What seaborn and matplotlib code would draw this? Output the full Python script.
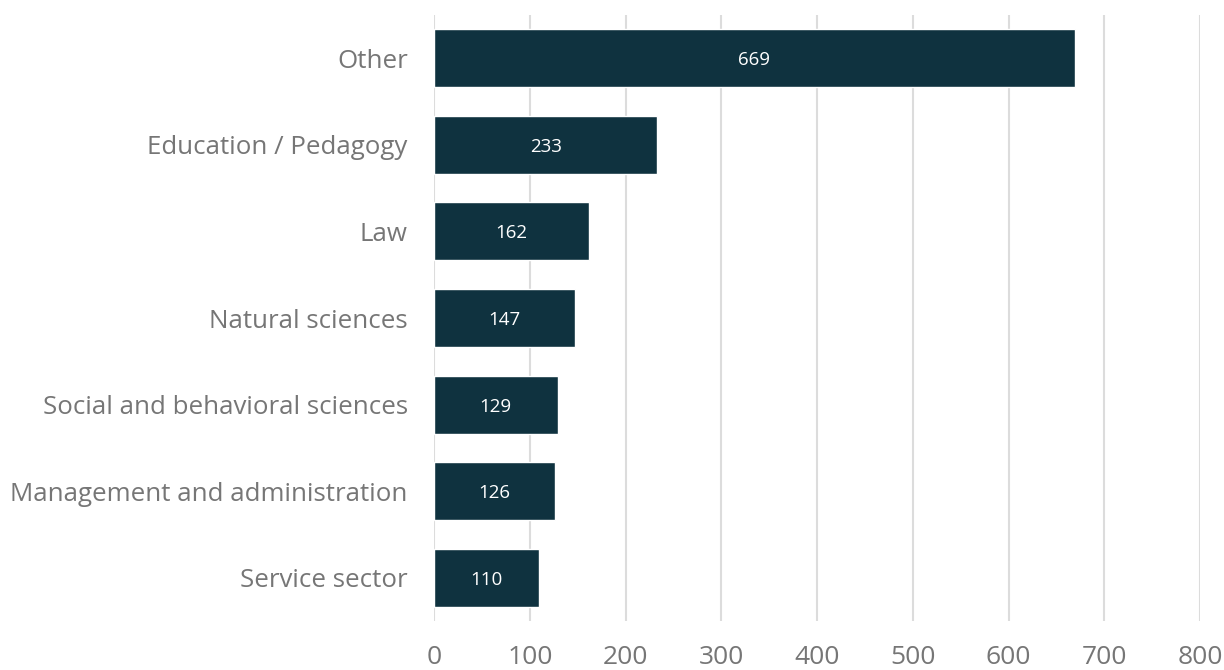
import matplotlib
matplotlib.use("Agg")
import matplotlib.pyplot as plt
import seaborn as sns
import pandas as pd

categories = [
    "Other",
    "Education / Pedagogy",
    "Law",
    "Natural sciences",
    "Social and behavioral sciences",
    "Management and administration",
    "Service sector",
]
counts = [669, 233, 162, 147, 129, 126, 110]
x_ticks = [0, 100, 200, 300, 400, 500, 600, 700, 800]

bar_color = "#0f323f"
label_color = "#767676"
grid_color = "#dcdcdc"

sns.set_theme(style="white")
plt.rcParams["font.family"] = ["Open Sans", "DejaVu Sans"]

df = pd.DataFrame({"field": categories, "count": counts})

fig = plt.figure(figsize=(12.24, 6.7), dpi=100)
ax = fig.add_axes([0.3546, 0.0731, 0.6258, 0.9045])

sns.barplot(data=df, y="field", x="count", orient="h", color=bar_color,
            width=0.67, saturation=1, ax=ax, zorder=3)

ax.set_xlim(0, 800)
ax.set_ylim(6.5, -0.5)
ax.set_xticks(x_ticks)
ax.set_xticklabels([str(t) for t in x_ticks])
ax.set_xlabel("")
ax.set_ylabel("")

for s in ax.spines.values():
    s.set_visible(False)

ax.grid(axis="x", color=grid_color, linewidth=1.5, zorder=0)
ax.grid(axis="y", visible=False)
ax.set_axisbelow(True)

ax.tick_params(axis="y", length=0, pad=19, labelsize=18.6, labelcolor=label_color)
ax.tick_params(axis="x", length=0, pad=17, labelsize=19, labelcolor=label_color)

for container in ax.containers:
    texts = ax.bar_label(container, labels=[str(v) for v in counts], label_type="center",
                         color="white", fontsize=13.5)
    for t in texts:
        t.set_verticalalignment("center_baseline")

fig.savefig("out.png", dpi=100)
